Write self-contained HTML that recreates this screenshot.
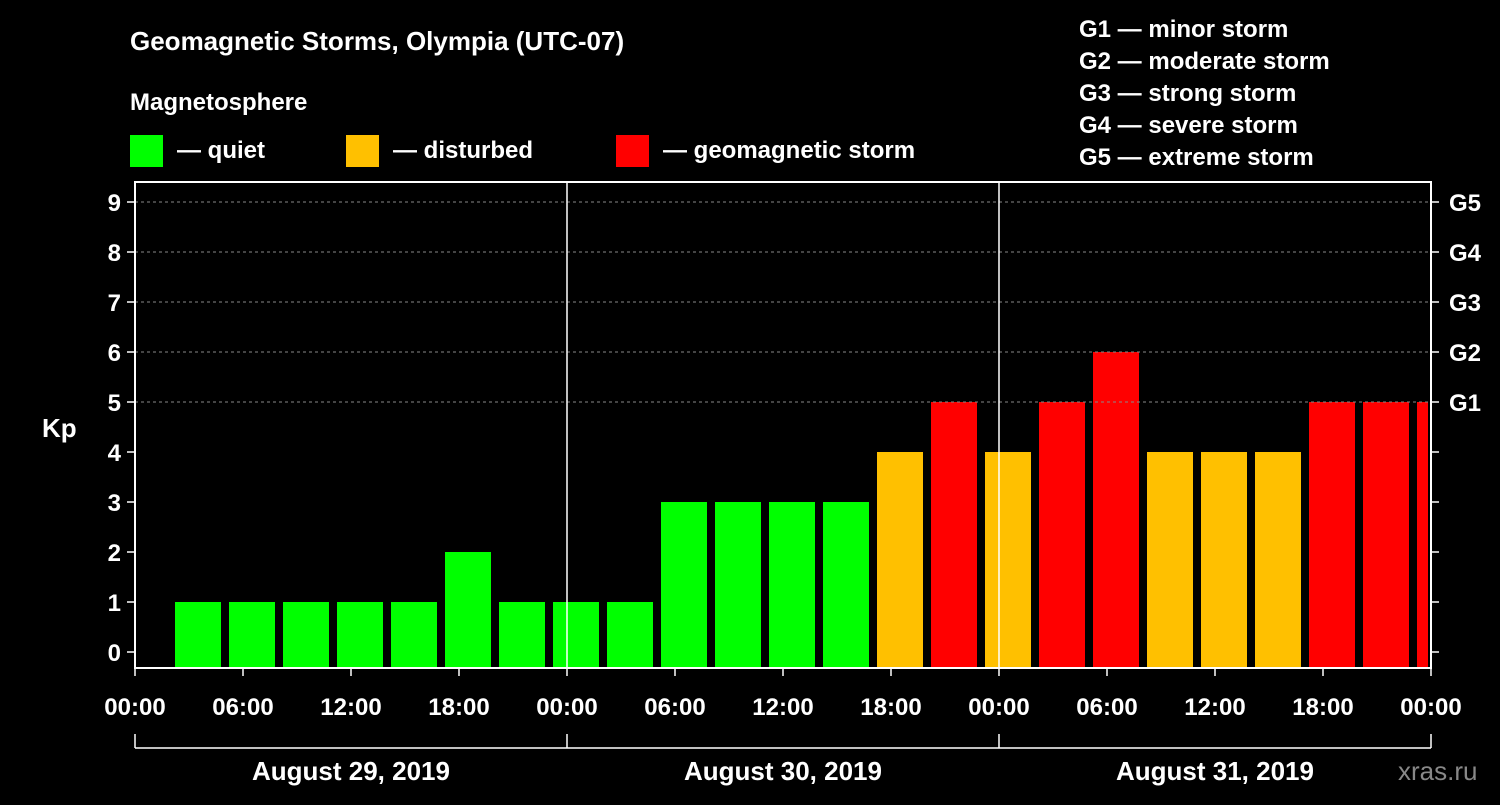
<!DOCTYPE html>
<html><head><meta charset="utf-8"><style>
body{margin:0;background:#000;width:1500px;height:800px;overflow:hidden}
svg text{font-family:"Liberation Sans",sans-serif;font-weight:bold;fill:#fff}
</style></head><body>
<svg id="c" width="1500" height="800">
<text x="130" y="50" font-size="26">Geomagnetic Storms, Olympia (UTC-07)</text>
<text x="130" y="110" font-size="24">Magnetosphere</text>
<g><rect x="130" y="135" width="33" height="32" fill="#00ff00"/><text x="177" y="158" font-size="24">— quiet</text></g>
<g><rect x="346" y="135" width="33" height="32" fill="#ffc000"/><text x="393" y="158" font-size="24">— disturbed</text></g>
<g><rect x="616" y="135" width="33" height="32" fill="#ff0000"/><text x="663" y="158" font-size="24">— geomagnetic storm</text></g>
<g font-size="24">
<text x="1079" y="37">G1 — minor storm</text><text x="1079" y="69">G2 — moderate storm</text><text x="1079" y="101">G3 — strong storm</text><text x="1079" y="133">G4 — severe storm</text><text x="1079" y="165">G5 — extreme storm</text></g>
<text x="42" y="437" font-size="26">Kp</text>
<text x="1398" y="780" font-size="26" fill="#888" style="fill:#888;font-weight:normal">xras.ru</text>
<g id="plot"></g>
</svg>
<script>
const kpValues=[1,1,1,1,1,2,1,1, 1,3,3,3,3,4,5,4, 5,6,4,4,4,5,5,5];
const slotStartHour=2;
const yTicks=[0,1,2,3,4,5,6,7,8,9];
const gLabels=["G1","G2","G3","G4","G5"];
const xTickLabels=["00:00","06:00","12:00","18:00","00:00","06:00","12:00","18:00","00:00","06:00","12:00","18:00","00:00"];
const dayLabels=["August 29, 2019","August 30, 2019","August 31, 2019"];
const L=135,R=1431,T=182,B=668;
const x=h=>L+h*18, y=v=>652-v*50;
const ns="http://www.w3.org/2000/svg",P=document.getElementById('plot');
function mk(t,a,txt){const e=document.createElementNS(ns,t);for(const k in a)e.setAttribute(k,a[k]);if(txt!=null)e.textContent=txt;P.appendChild(e);return e;}
kpValues.forEach((v,i)=>{
 const h0=slotStartHour+i*3;
 const x0=x(h0)+4,x1=Math.min(x(h0+3)-4,R-3);
 const col=v>=5?"#ff0000":v>=4?"#ffc000":"#00ff00";
 const r=mk('rect',{x:x0,y:y(v),width:x1-x0,height:B-y(v),fill:col});
 
 
});
yTicks.forEach(v=>{
 if(v>=5){const g=mk('line',{x1:L,x2:R,y1:y(v),y2:y(v),stroke:"#888","stroke-dasharray":"3,3"});}
 mk('line',{x1:L-8,x2:L,y1:y(v),y2:y(v),stroke:"#fff","stroke-width":1.5});
 mk('line',{x1:R,x2:R+8,y1:y(v),y2:y(v),stroke:"#fff","stroke-width":1.5});
 const t=mk('text',{x:L-14,y:y(v)+9,"font-size":24,"text-anchor":"end"},v);
 
 
});
gLabels.forEach((g,i)=>{const t=mk('text',{x:R+18,y:y(5+i)+9,"font-size":24},g);
 
 });
const fr=mk('rect',{x:L,y:T,width:R-L,height:B-T,fill:"none",stroke:"#fff","stroke-width":2});


[1,2].forEach(d=>mk('line',{x1:x(d*24),x2:x(d*24),y1:T,y2:B,stroke:"#fff","stroke-width":1.5}));
xTickLabels.forEach((s,i)=>{
 mk('line',{x1:x(i*6),x2:x(i*6),y1:B,y2:B+8,stroke:"#fff","stroke-width":1.5});
 const t=mk('text',{x:x(i*6),y:B+47,"font-size":24,"text-anchor":"middle"},s);
 
 
});
mk('line',{x1:L,x2:R,y1:748,y2:748,stroke:"#fff","stroke-width":1.5});
[0,1,2,3].forEach(d=>mk('line',{x1:x(d*24),x2:x(d*24),y1:734,y2:748,stroke:"#fff","stroke-width":1.5}));
dayLabels.forEach((s,i)=>{const t=mk('text',{x:x(i*24+12),y:780,"font-size":26,"text-anchor":"middle"},s);
 
 });
</script>
</body></html>
